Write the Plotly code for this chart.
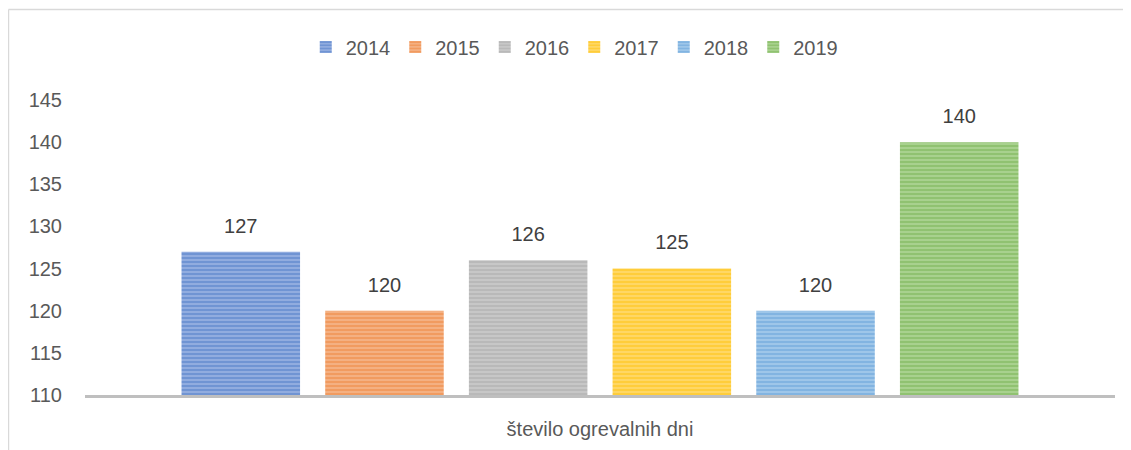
import plotly.graph_objects as go

category = "število ogrevalnih dni"
years = ["2014", "2015", "2016", "2017", "2018", "2019"]
days = [127, 120, 126, 125, 120, 140]

colors = ["#4472C4", "#ED7D31", "#A5A5A5", "#FFC000", "#5B9BD5", "#70AD47"]
light = ["#9DB6E3", "#F5B88F", "#CDCDCD", "#FFDB75", "#A9CCEC", "#B1D79A"]

FONT = "Liberation Sans"
SIZE = 20

fig = go.Figure()
for year, val, col, bg in zip(years, days, colors, light):
    fig.add_trace(go.Bar(
        x=[category],
        y=[val],
        name=year,
        offsetgroup=year,
        marker=dict(
            color=bg,
            line=dict(width=0),
            pattern=dict(shape="-", fgcolor=col, bgcolor=bg, size=4, solidity=0.65, fillmode="overlay"),
        ),
    ))

# data labels as grouped text points so they sit over their bar;
# the invisible marker gives the gap between bar top and label
for year, val in zip(years, days):
    fig.add_trace(go.Scatter(
        x=[category],
        y=[val],
        mode="markers+text",
        marker=dict(size=21, opacity=0),
        text=[str(val)],
        textposition="top center",
        textfont=dict(size=SIZE, color="#404040", family=FONT),
        offsetgroup=year,
        showlegend=False,
        cliponaxis=False,
        hoverinfo="skip",
    ))

# chart area frame (only top and left edges visible in the reference)
frame = dict(type="line", xref="paper", yref="paper", line=dict(color="#D9D9D9", width=1.5))
fig.add_shape(**frame, x0=-0.0743, x1=1.03, y0=1.3068, y1=1.3068)
fig.add_shape(**frame, x0=-0.0743, x1=-0.0743, y0=1.3068, y1=-0.25)

# the page body adds 8px around the figure, margins account for it
fig.update_layout(
    width=1131,
    height=450,
    barmode="group",
    bargap=0.163,
    bargroupgap=0.175,
    scattermode="group",
    scattergap=0.163,
    plot_bgcolor="white",
    paper_bgcolor="white",
    font=dict(family=FONT, size=SIZE, color="#595959"),
    margin=dict(l=77, r=24, t=92, b=63),
    showlegend=True,
    legend=dict(
        orientation="h",
        x=0.475, xanchor="center",
        y=1.18, yanchor="middle",
        font=dict(size=SIZE, color="#595959"),
        itemwidth=30,
        tracegroupgap=0,
    ),
    xaxis=dict(
        automargin=False,
        showline=True,
        linecolor="#BFBFBF",
        linewidth=3,
        ticks="",
        ticklabelstandoff=14,
        tickfont=dict(size=SIZE, color="#595959"),
    ),
    yaxis=dict(
        automargin=False,
        range=[110, 145],
        dtick=5,
        showgrid=False,
        zeroline=False,
        showline=False,
        ticks="",
        ticklabelstandoff=22,
        tickfont=dict(size=SIZE, color="#595959"),
    ),
)

fig.write_html("out.html")
